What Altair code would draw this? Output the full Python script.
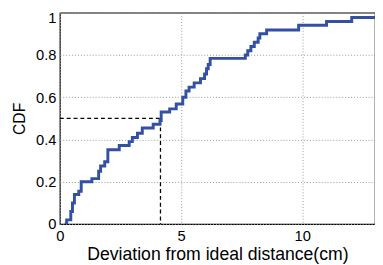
import altair as alt
import pandas as pd

# step CDF points (x where the step starts, CDF value after the step)
step_x = [0.20, 0.28, 0.45, 0.52, 0.60, 0.78, 0.88, 1.32, 1.60, 1.68, 1.85, 1.98,
          2.45, 2.86, 2.99, 3.20, 3.40, 3.85, 4.13, 4.18, 4.53, 4.80, 5.07, 5.20,
          5.33, 5.54, 5.80, 5.97, 6.05, 6.12, 6.20, 7.65, 7.75, 7.88, 8.02, 8.18,
          8.25, 8.53, 9.85, 11.00, 12.04, 13.00]
step_y = [0.0, 0.02, 0.06, 0.10, 0.14, 0.155, 0.20, 0.215, 0.25, 0.275, 0.295, 0.352,
          0.372, 0.39, 0.41, 0.43, 0.455, 0.472, 0.49, 0.53, 0.545, 0.568, 0.60, 0.63,
          0.648, 0.668, 0.688, 0.71, 0.735, 0.755, 0.784, 0.80, 0.82, 0.84, 0.86, 0.88,
          0.90, 0.918, 0.941, 0.958, 0.977, 0.977]

# median guide (dashed)
guide_x = [0.0, 4.15, 4.15]
guide_y = [0.5, 0.5, 0.0]

x_ticks = [0, 5, 10]
y_ticks = [0, 0.2, 0.4, 0.6, 0.8, 1.0]

cdf = pd.DataFrame({"x": step_x, "y": step_y})
guide = pd.DataFrame({"x": guide_x, "y": guide_y, "o": [0, 1, 2]})

font = "Liberation Sans"

xscale = alt.Scale(domain=[0, 13], nice=False, zero=False)
yscale = alt.Scale(domain=[0, 1], nice=False)

xaxis = alt.Axis(values=x_ticks, title="Deviation from ideal distance(cm)", format="~g",
                 grid=True, gridColor="#999999", gridDash=[1, 2], gridWidth=1,
                 ticks=False, domain=False, labelFont=font, labelFontSize=15,
                 labelColor="black", labelPadding=5, titleFont=font, titleFontSize=18,
                 titleFontWeight="normal", titleColor="black", titlePadding=2,
                 labelFlush=False)
yaxis = alt.Axis(values=y_ticks, title="CDF", format="~g",
                 grid=True, gridColor="#999999", gridDash=[1, 2], gridWidth=1,
                 ticks=False, domain=False, labelFont=font, labelFontSize=15,
                 labelColor="black", labelPadding=4, titleFont=font, titleFontSize=16,
                 titleFontWeight="normal", titleColor="black", titlePadding=8,
                 labelBaseline={"condition": {"test": "datum.value === 1", "value": "top"},
                                "value": "middle"},
                 labelOffset={"condition": {"test": "datum.value === 1", "value": -2},
                              "value": 0},
                 labelFlush=False)

line = alt.Chart(cdf).mark_line(interpolate="step-after", color="#3350a3",
                                strokeWidth=3, clip=True).encode(
    x=alt.X("x:Q", scale=xscale, axis=xaxis),
    y=alt.Y("y:Q", scale=yscale, axis=yaxis),
)

dash = alt.Chart(guide).mark_line(color="black", strokeDash=[4, 3],
                                  strokeWidth=1.3).encode(
    x=alt.X("x:Q", scale=xscale),
    y=alt.Y("y:Q", scale=yscale),
    order="o:O",
)

chart = alt.layer(dash, line).properties(
    width=322, height=216,
    autosize=alt.AutoSizeParams(type="none"),
    padding={"left": 53, "top": 2, "right": 0, "bottom": 39},
    background="white",
).configure_view(stroke="black", strokeWidth=1.2)

chart.save("out.html", embed_options={"renderer": "svg", "actions": False})
